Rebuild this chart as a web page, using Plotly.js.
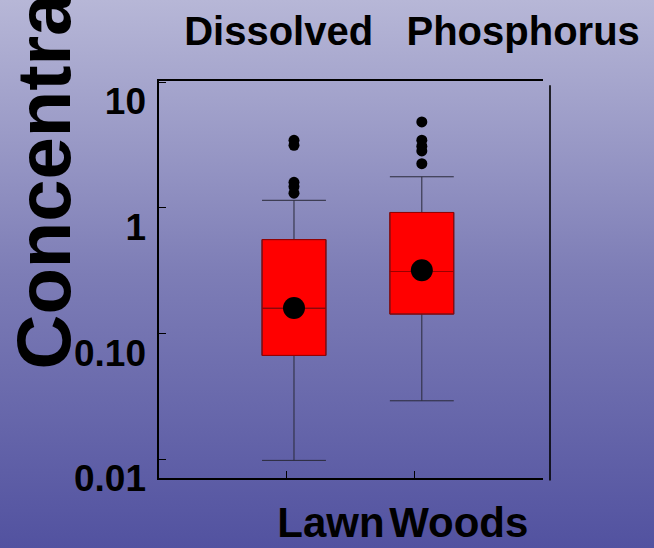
<!DOCTYPE html>
<html><head><meta charset="utf-8">
<script src="https://cdn.plot.ly/plotly-3.0.1.min.js"></script>
<style>
html,body{margin:0;padding:0;width:654px;height:548px;overflow:hidden;}
body{background:linear-gradient(to bottom,#b7b7d7 0%,#7d7db6 50%,#5252a0 100%);}
#chart{width:654px;height:548px;}
</style></head><body><div id="chart"></div>
<script>
// ---- data ----
const categories = ['Lawn', 'Woods'];
const lowerWhisker = [0.0098, 0.0292];
const q1 = [0.067, 0.143];
const median = [0.159, 0.312];
const q3 = [0.56, 0.92];
const upperWhisker = [1.15, 1.77];
const means = [0.16, 0.319];
const outliersLawn = [1.31, 1.48, 1.60, 3.15, 3.45];
const outliersWoods = [2.25, 2.84, 3.10, 3.46, 4.83];
const yTickVals = [0.01, 0.1, 1, 10];
const yTickText = ['0.01', '0.10', '1', '10'];
const titleText = 'Dissolved\u00a0\u00a0 Phosphorus';
const yTitleText = 'Concentration';

// ---- build ----
const xIdx = categories.map((c, i) => i);
const FONT = 'Liberation Sans, Arial, Helvetica, sans-serif';

const boxMain = {
  type: 'box', x: xIdx, q1: q1, median: median, q3: q3,
  lowerfence: lowerWhisker, upperfence: upperWhisker,
  fillcolor: '#ff0000', line: {color: '#2a2a3a', width: 1},
  whiskerwidth: 1, width: 0.5, boxpoints: false, hoverinfo: 'skip', showlegend: false
};
const boxEdge = {
  type: 'box', x: xIdx, q1: q1, median: median, q3: q3,
  lowerfence: q1, upperfence: q3,
  fillcolor: 'rgba(0,0,0,0)', line: {color: '#9a0000', width: 1},
  whiskerwidth: 0, width: 0.5, boxpoints: false, hoverinfo: 'skip', showlegend: false
};
const outX = [], outY = [];
outliersLawn.forEach(v => { outX.push(0); outY.push(v); });
outliersWoods.forEach(v => { outX.push(1); outY.push(v); });
const outTrace = {
  type: 'scatter', mode: 'markers', x: outX, y: outY,
  marker: {color: '#000', size: 11}, showlegend: false, hoverinfo: 'skip'
};
const meanTrace = {
  type: 'scatter', mode: 'markers', x: xIdx, y: means,
  marker: {color: '#000', size: 22}, showlegend: false, hoverinfo: 'skip'
};

const layout = {
  width: 654, height: 548,
  paper_bgcolor: 'rgba(0,0,0,0)', plot_bgcolor: 'rgba(0,0,0,0)',
  margin: {l: 159, r: 111, t: 81, b: 70, pad: 0},
  boxmode: 'overlay',
  showlegend: false,
  title: {
    text: titleText, x: 412 / 654, xanchor: 'center', xref: 'container',
    y: 1 - 31 / 548, yanchor: 'middle', yref: 'container',
    font: {family: FONT, size: 40, color: '#000', weight: 'bold'}
  },
  xaxis: {
    type: 'linear', range: [-1.056, 1.948],
    tickmode: 'array', tickvals: xIdx.map(i => i - 0.055), ticktext: categories,
    ticks: 'inside', ticklen: 7, tickwidth: 1, tickcolor: '#000',
    showline: true, linecolor: '#000', linewidth: 1.6, mirror: true,
    showgrid: false, zeroline: false,
    tickfont: {family: FONT, size: 42, color: '#000', weight: 'bold'},
    ticklabelshift: 44, ticklabelstandoff: 7
  },
  yaxis: {
    type: 'log', range: [-2.149, 1.01],
    tickmode: 'array', tickvals: yTickVals, ticktext: yTickText,
    ticks: 'inside', ticklen: 7, tickwidth: 1, tickcolor: '#000',
    showline: true, linecolor: '#000', linewidth: 1.6, mirror: false,
    showgrid: false, zeroline: false,
    tickfont: {family: FONT, size: 37, color: '#000', weight: 'bold'},
    ticklabelshift: 19, ticklabelstandoff: 4
  },
  shapes: [{
    type: 'line', xref: 'paper', yref: 'paper',
    x0: (550 - 159) / 384, x1: (550 - 159) / 384, y0: -0.006, y1: 0.989,
    line: {color: '#000', width: 1.6}
  }],
  annotations: [{
    text: yTitleText, textangle: -90, showarrow: false,
    xref: 'paper', yref: 'paper',
    x: (43 - 159) / 384, xanchor: 'center',
    y: (478 - 372) / 397, yanchor: 'bottom',
    font: {family: FONT, size: 76, color: '#000', weight: 'bold'}
  }]
};

Plotly.newPlot('chart', [boxMain, boxEdge, outTrace, meanTrace], layout, {displayModeBar: false, staticPlot: true});
</script></body></html>
